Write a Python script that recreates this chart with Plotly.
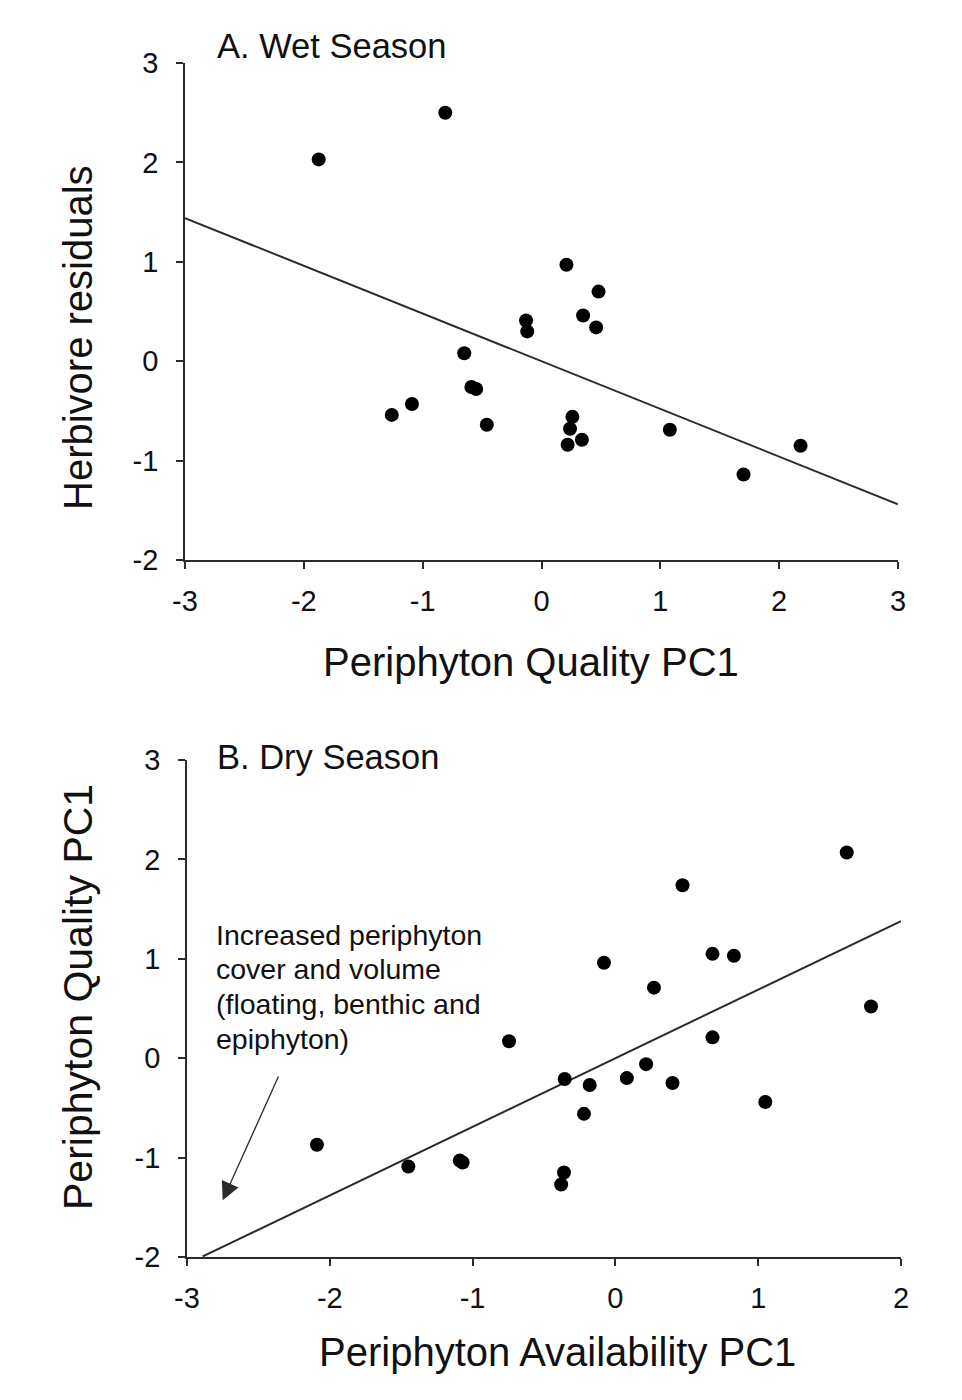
import plotly.graph_objects as go

# ---- Panel A: Wet season ----
wet_quality_pc1 = [-1.875, -0.81, 0.21, 0.48, 0.35, 0.46, -0.13, -0.12, -0.65, -0.59, -0.55,
                   -1.09, -1.26, -0.46, 0.26, 0.24, 0.22, 0.34, 1.08, 1.70, 2.18]
wet_herbivore_resid = [2.03, 2.50, 0.97, 0.70, 0.46, 0.34, 0.41, 0.30, 0.08, -0.26, -0.28,
                       -0.43, -0.54, -0.64, -0.56, -0.68, -0.84, -0.79, -0.69, -1.14, -0.85]
wet_fit_slope = -0.48
wet_fit_intercept = 0.0
wet_fit_x = [-3.0, 3.0]

# ---- Panel B: Dry season ----
dry_availability_pc1 = [1.62, 0.47, -0.08, 0.68, 0.83, 0.27, 1.79, -0.745, 0.68, -0.355, -0.18,
                        0.08, 0.215, 0.40, 1.05, -0.22, -0.36, -0.38, -2.09, -1.45, -1.09, -1.07]
dry_quality_pc1 = [2.07, 1.74, 0.96, 1.05, 1.03, 0.71, 0.52, 0.17, 0.21, -0.21, -0.27,
                   -0.20, -0.06, -0.25, -0.44, -0.56, -1.15, -1.27, -0.87, -1.09, -1.03, -1.05]
dry_fit_slope = 0.69
dry_fit_intercept = 0.0
dry_fit_x = [-2.89, 2.0]

x_ticks_a = [-3, -2, -1, 0, 1, 2, 3]
x_ticks_b = [-3, -2, -1, 0, 1, 2]
y_ticks = [-2, -1, 0, 1, 2, 3]
x_labels_a = ["-3", "-2", "-1", "0", "1", "2", "3"]
x_labels_b = ["-3", "-2", "-1", "0", "1", "2"]
y_labels = ["-2", "-1", "0", "1", "2", "3"]

note_lines = ["Increased periphyton", "cover and volume", "(floating, benthic and", "epiphyton)"]

FONT = "Liberation Sans, Arial, sans-serif"
INK = "#111111"
LINE = "#2b2b2b"

# page body has an 8px margin; figure sized to fit the window
OFF = 8
W, H = 962 - 2 * OFF, 1400 - 2 * OFF


def px(p):
    return (p - OFF) / W


def py(p):
    return 1 - (p - OFF) / H


fig = go.Figure()

fig.add_trace(go.Scatter(x=wet_fit_x, y=[wet_fit_slope * v + wet_fit_intercept for v in wet_fit_x],
                         mode="lines", line=dict(color=LINE, width=2), xaxis="x", yaxis="y",
                         showlegend=False))
fig.add_trace(go.Scatter(x=wet_quality_pc1, y=wet_herbivore_resid, mode="markers",
                         marker=dict(size=14, color="black"), xaxis="x", yaxis="y",
                         showlegend=False, cliponaxis=False))

fig.add_trace(go.Scatter(x=dry_fit_x, y=[dry_fit_slope * v + dry_fit_intercept for v in dry_fit_x],
                         mode="lines", line=dict(color=LINE, width=2), xaxis="x2", yaxis="y2",
                         showlegend=False))
fig.add_trace(go.Scatter(x=dry_availability_pc1, y=dry_quality_pc1, mode="markers",
                         marker=dict(size=14, color="black"), xaxis="x2", yaxis="y2",
                         showlegend=False, cliponaxis=False))


def axis_common():
    return dict(showline=True, linecolor=LINE, linewidth=1.8, mirror=False,
                ticks="outside", ticklen=7, tickwidth=1.8, tickcolor=LINE,
                showgrid=False, zeroline=False, automargin=False,
                tickfont=dict(family=FONT, size=29, color=INK))


xa = axis_common()
xa.update(domain=[px(185), px(898)], range=[-3, 3], tickvals=x_ticks_a, ticktext=x_labels_a,
          anchor="y", ticklabelstandoff=7)
ya = axis_common()
ya.update(domain=[py(560), py(63)], range=[-2, 3], tickvals=y_ticks, ticktext=y_labels,
          anchor="x", ticklabelstandoff=12)
xb = axis_common()
xb.update(domain=[px(187), px(901)], range=[-3, 2], tickvals=x_ticks_b, ticktext=x_labels_b,
          anchor="y2", ticklabelstandoff=7)
yb = axis_common()
yb.update(domain=[py(1257), py(760)], range=[-2, 3], tickvals=y_ticks, ticktext=y_labels,
          anchor="x2", ticklabelstandoff=12)

title_font = dict(family=FONT, size=40, color=INK)
panel_font = dict(family=FONT, size=34.5, color=INK)
note_font = dict(family=FONT, size=28.5, color=INK)

annotations = [
    # axis titles
    dict(text="Periphyton Quality PC1", xref="paper", yref="paper", x=px(531), y=py(662),
         xanchor="center", yanchor="middle", showarrow=False, font=title_font),
    dict(text="Herbivore residuals", xref="paper", yref="paper", x=px(78), y=py(338),
         xanchor="center", yanchor="middle", textangle=-90, showarrow=False, font=title_font),
    dict(text="Periphyton Availability PC1", xref="paper", yref="paper", x=px(557), y=py(1352),
         xanchor="center", yanchor="middle", showarrow=False, font=title_font),
    dict(text="Periphyton Quality PC1", xref="paper", yref="paper", x=px(78), y=py(997),
         xanchor="center", yanchor="middle", textangle=-90, showarrow=False,
         font=dict(family=FONT, size=41, color=INK)),
    # panel titles
    dict(text="A. Wet Season", xref="paper", yref="paper", x=px(215), y=py(46),
         xanchor="left", yanchor="middle", showarrow=False, font=panel_font),
    dict(text="B. Dry Season", xref="paper", yref="paper", x=px(215), y=py(757),
         xanchor="left", yanchor="middle", showarrow=False, font=panel_font),
    # arrow
    dict(text="", xref="x2", yref="y2", x=-2.75, y=-1.43, axref="x2", ayref="y2",
         ax=-2.355, ay=-0.17, showarrow=True, arrowhead=2, arrowsize=2.8, arrowwidth=1.3,
         arrowcolor=LINE),
]

# note text, one line per annotation so the spacing follows the reference
note_y = [935, 969, 1004, 1039]
for line, yy in zip(note_lines, note_y):
    annotations.append(dict(text=line, xref="paper", yref="paper", x=px(214), y=py(yy),
                            xanchor="left", yanchor="middle", showarrow=False, font=note_font))

fig.update_layout(width=W, height=H, margin=dict(l=0, r=0, t=0, b=0),
                  paper_bgcolor="white", plot_bgcolor="white",
                  xaxis=xa, yaxis=ya, xaxis2=xb, yaxis2=yb,
                  annotations=annotations, showlegend=False)

fig.write_html("out.html")
